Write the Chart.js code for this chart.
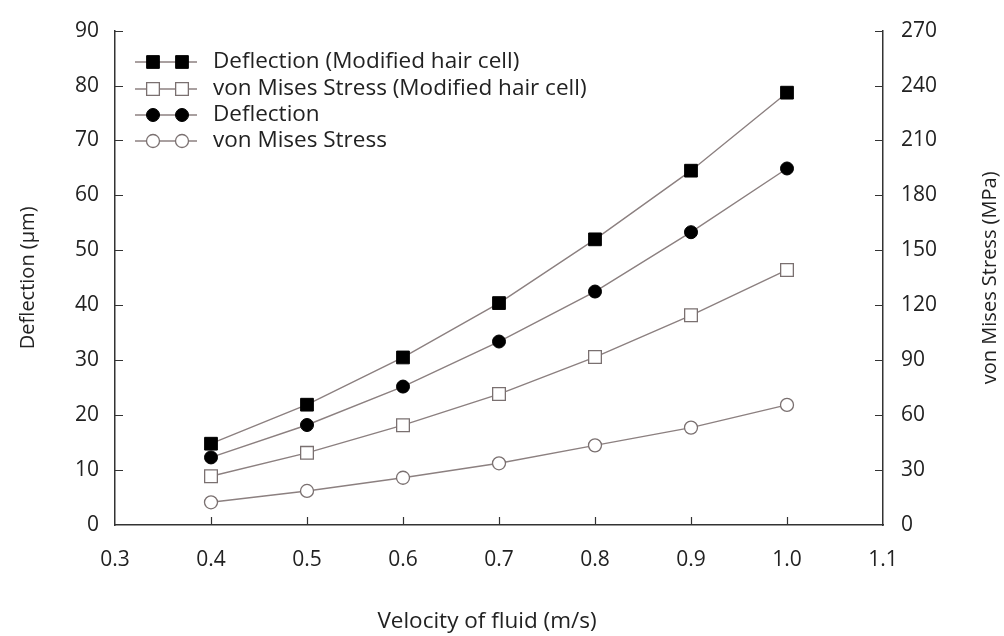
<!DOCTYPE html>
<html>
<head>
<meta charset="utf-8">
<script src="https://cdn.jsdelivr.net/npm/chart.js@4"></script>
<style>
  html, body { margin: 0; padding: 0; background: #fff; }
  #wrap { width: 1004px; height: 636px; position: relative; }
</style>
</head>
<body>
<div id="wrap"><canvas id="chart"></canvas></div>
<script>
// values
const velocity = [0.4, 0.5, 0.6, 0.7, 0.8, 0.9, 1.0];
const deflectionModified = [14.8, 21.9, 30.5, 40.4, 52.0, 64.5, 78.7];
const stressModified = [26.6, 39.4, 54.5, 71.5, 91.7, 114.5, 139.3];
const deflection = [12.3, 18.2, 25.2, 33.4, 42.5, 53.3, 64.9];
const stress = [12.4, 18.6, 25.8, 33.7, 43.5, 53.2, 65.6];

const seriesLabels = [
  "Deflection (Modified hair cell)",
  "von Mises Stress (Modified hair cell)",
  "Deflection",
  "von Mises Stress",
];

const FONT = "'Open Sans', 'Noto Sans', sans-serif";
const LINE = "#8c8080";
const AXIS = "#333";
const TEXT = "#222";

const pts = (ys) => velocity.map((v, i) => ({ x: v, y: ys[i] }));

function series(label, ys, axis, style, filled) {
  return {
    label,
    data: pts(ys),
    yAxisID: axis,
    borderColor: LINE,
    borderWidth: 1.4,
    pointStyle: style,
    pointRadius: style === "rect" ? 9 : 6.5,
    pointBackgroundColor: filled ? "#000" : "#fff",
    pointBorderColor: filled ? "#000" : "#7a7070",
    pointBorderWidth: filled ? 1 : 1.3,
    tension: 0,
  };
}

// inward tick marks, legend with two markers per row, axis titles placed like the figure
const decorations = {
  id: "decorations",
  afterDraw(chart) {
    const { ctx, chartArea: a, scales } = chart;
    ctx.save();
    ctx.strokeStyle = AXIS;
    ctx.lineWidth = 1.2;
    ctx.beginPath();
    scales.x.ticks.forEach((t) => {
      if (t.value <= 0.31 || t.value >= 1.09) return;
      const px = Math.round(scales.x.getPixelForValue(t.value)) + 0.5;
      ctx.moveTo(px, a.bottom); ctx.lineTo(px, a.bottom - 8);
    });
    scales.y.ticks.forEach((t) => {
      if (t.value === 0) return;
      const py = Math.round(scales.y.getPixelForValue(t.value)) + 0.5;
      ctx.moveTo(a.left, py); ctx.lineTo(a.left + 8, py);
    });
    scales.y2.ticks.forEach((t) => {
      if (t.value === 0) return;
      const py = Math.round(scales.y2.getPixelForValue(t.value)) + 0.5;
      ctx.moveTo(a.right, py); ctx.lineTo(a.right - 8, py);
    });
    ctx.stroke();

    // legend
    const rowY = [62, 89, 115, 141];
    chart.data.datasets.forEach((ds, i) => {
      const y = rowY[i];
      ctx.strokeStyle = LINE;
      ctx.lineWidth = 1.4;
      ctx.beginPath();
      ctx.moveTo(135, y); ctx.lineTo(197, y);
      ctx.stroke();
      [153, 182].forEach((x) => {
        ctx.fillStyle = ds.pointBackgroundColor;
        ctx.strokeStyle = ds.pointBorderColor;
        ctx.lineWidth = ds.pointBorderWidth;
        Chart.helpers.drawPoint(ctx, { pointStyle: ds.pointStyle, radius: ds.pointRadius, rotation: 0, borderWidth: ds.pointBorderWidth }, x, y);
      });
      ctx.fillStyle = TEXT;
      ctx.font = "22.5px " + FONT;
      ctx.textBaseline = "middle";
      ctx.textAlign = "left";
      ctx.fillText(ds.label, 213, y);
    });

    // x axis title, a little left of the plot centre as in the figure
    ctx.fillStyle = TEXT;
    ctx.font = "22.5px " + FONT;
    ctx.textAlign = "center";
    ctx.textBaseline = "middle";
    ctx.fillText("Velocity of fluid (m/s)", 487, 622);

    // right axis title, reading bottom to top
    ctx.translate(990, (a.top + a.bottom) / 2);
    ctx.rotate(-Math.PI / 2);
    ctx.font = "20px " + FONT;
    ctx.fillText("von Mises Stress (MPa)", 0, 0);
    ctx.restore();
  },
};

new Chart(document.getElementById("chart"), {
  type: "line",
  data: {
    datasets: [
      series(seriesLabels[0], deflectionModified, "y", "rect", true),
      series(seriesLabels[1], stressModified, "y2", "rect", false),
      series(seriesLabels[2], deflection, "y", "circle", true),
      series(seriesLabels[3], stress, "y2", "circle", false),
    ],
  },
  options: {
    responsive: true,
    maintainAspectRatio: false,
    animation: false,
    layout: { padding: { top: 20 } },
    plugins: { legend: { display: false }, tooltip: { enabled: false } },
    scales: {
      x: {
        type: "linear",
        min: 0.3,
        max: 1.1,
        afterFit: (s) => { s.height = 111; },
        grid: { display: false, drawTicks: false },
        border: { display: true, color: AXIS, width: 1.5 },
        ticks: {
          stepSize: 0.1,
          padding: 22,
          color: TEXT,
          font: { family: FONT, size: 21 },
          callback: (v) => v.toFixed(1),
        },
      },
      y: {
        position: "left",
        min: 0,
        max: 90,
        afterFit: (s) => { s.width = 115; },
        grid: { display: false, drawTicks: false },
        border: { display: true, color: AXIS, width: 1.5 },
        ticks: { stepSize: 10, padding: 16, color: TEXT, font: { family: FONT, size: 21 } },
        title: {
          display: true,
          text: "Deflection (μm)",
          color: TEXT,
          font: { family: FONT, size: 20 },
          padding: { top: 16, bottom: 0 },
        },
      },
      y2: {
        position: "right",
        min: 0,
        max: 270,
        afterFit: (s) => { s.width = 121; },
        grid: { display: false, drawTicks: false },
        border: { display: true, color: AXIS, width: 1.5 },
        ticks: { stepSize: 30, padding: 18, color: TEXT, font: { family: FONT, size: 21 } },
      },
    },
  },
  plugins: [decorations],
});
</script>
</body>
</html>
